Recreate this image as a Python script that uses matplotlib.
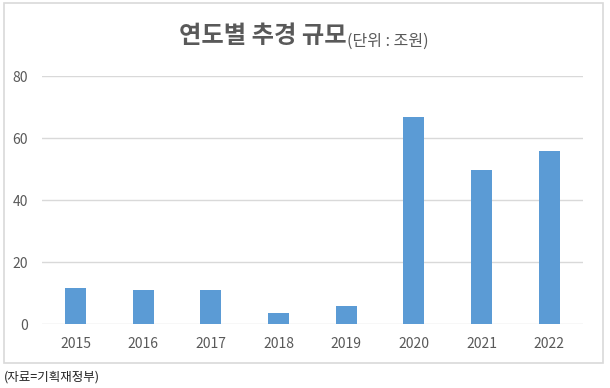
import matplotlib
matplotlib.use("Agg")
import matplotlib.pyplot as plt
from matplotlib.patches import Rectangle

plt.rcParams['font.family'] = ['Noto Sans CJK KR', 'DejaVu Sans']

years = ['2015', '2016', '2017', '2018', '2019', '2020', '2021', '2022']
values = [11.6, 11.0, 11.0, 3.8, 5.8, 66.8, 49.8, 55.9]
yticks = [0, 20, 40, 60, 80]

W, H = 610, 388
fig = plt.figure(figsize=(W / 100, H / 100), dpi=100)

# outer border
fig.patches.append(Rectangle((3.5 / W, 1 - 363 / H), (603 - 3.5) / W, (363 - 3) / H,
                             transform=fig.transFigure, fill=False,
                             edgecolor='#d9d9d9', linewidth=1.2))

left, right = 41.7 / W, 583 / W
bottom, top = 1 - 324.3 / H, 1 - 76 / H
ax = fig.add_axes([left, bottom, right - left, top - bottom])

x = range(len(years))
ax.bar(x, values, width=0.31, color='#5B9BD5', zorder=3)
ax.set_xlim(-0.5, len(years) - 0.5)
ax.set_ylim(0, 80)
ax.set_yticks(yticks)
ax.set_xticks(list(x))
ax.set_xticklabels(years)
ax.grid(axis='y', color='#d9d9d9', linewidth=1, zorder=0)
ax.set_axisbelow(True)
for s in ax.spines.values():
    s.set_visible(False)
ax.tick_params(axis='both', length=0, labelsize=10, labelcolor='#595959')
ax.tick_params(axis='x', pad=9)
ax.tick_params(axis='y', pad=10)

fig.text(347 / W, 1 - 36 / H, '연도별 추경 규모', ha='right', va='center',
         fontsize=17.5, fontweight='bold', color='#595959')
fig.text(347 / W, 1 - 41 / H, '(단위 : 조원)', ha='left', va='center',
         fontsize=11.5, color='#595959')
fig.text(4 / W, 1 - 377 / H, '(자료=기획재정부)', ha='left', va='center',
         fontsize=9, color='#222222')

fig.savefig('out.png', dpi=100)
